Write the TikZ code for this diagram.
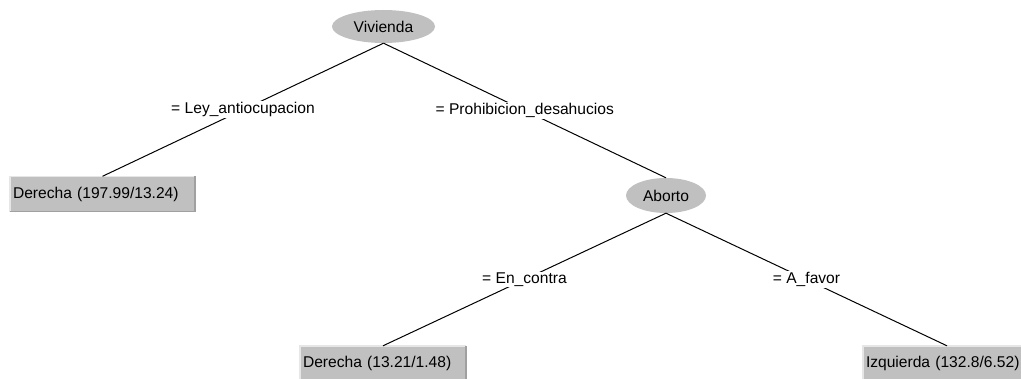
\documentclass[tikz,border=0pt]{standalone}
\usepackage{fontspec}
\setmainfont{Liberation Sans}
\usetikzlibrary{shapes.geometric}
\definecolor{wgray}{HTML}{C0C0C0}
\definecolor{wlight}{HTML}{E6E6E6}
\definecolor{wdark}{HTML}{A0A0A0}
\begin{document}
\begin{tikzpicture}[x=1pt,y=-1pt,
  font=\fontsize{15.6}{18.5}\selectfont,
  innernode/.style={ellipse, fill=wgray, inner sep=0pt},
  leaf/.style={rectangle, fill=wgray, minimum height=35pt, inner ysep=0pt, inner xsep=3pt, align=left},
  edge/.style={draw=black, line width=1pt},
  lbl/.style={fill=white, inner xsep=2pt, inner ysep=1pt},
  bevlight/.style={draw=wlight, line width=1.5pt},
  bevdark/.style={draw=wdark, line width=1.5pt}]
\useasboundingbox (0,0) rectangle (1021,379);

% nodes
\node[innernode, minimum width=103pt, minimum height=33pt] (viv) at (383.5,26.5) {Vivienda};
\node[innernode, minimum width=80pt, minimum height=35pt] (abo) at (666,195.5) {Aborto};
\node[leaf, text width=179pt] (l1) at (102.5,194) {Derecha (197.99/13.24)};
\node[leaf, text width=160pt] (l2) at (383,363.5) {Derecha (13.21/1.48)};
\node[leaf, text width=162pt] (l3) at (947,363.5) {Izquierda (132.8/6.52)};

% bevels
\foreach \n in {l1,l2,l3}{
  \draw[bevlight] (\n.south west) -- (\n.north west) -- (\n.north east);
  \draw[bevdark] (\n.north east) -- (\n.south east) -- (\n.south west);
}

% edges with labels
\draw[edge] (viv.south) -- node[lbl] (e1) {= Ley\_antiocupacion} (l1.north);
\draw[edge] (viv.south) -- node[lbl] (e2) {= Prohibicion\_desahucios} (abo.north);
\draw[edge] (abo.south) -- node[lbl] (e3) {= En\_contra} (l2.north);
\draw[edge] (abo.south) -- node[lbl] (e4) {= A\_favor} (l3.north);
\end{tikzpicture}
\end{document}
